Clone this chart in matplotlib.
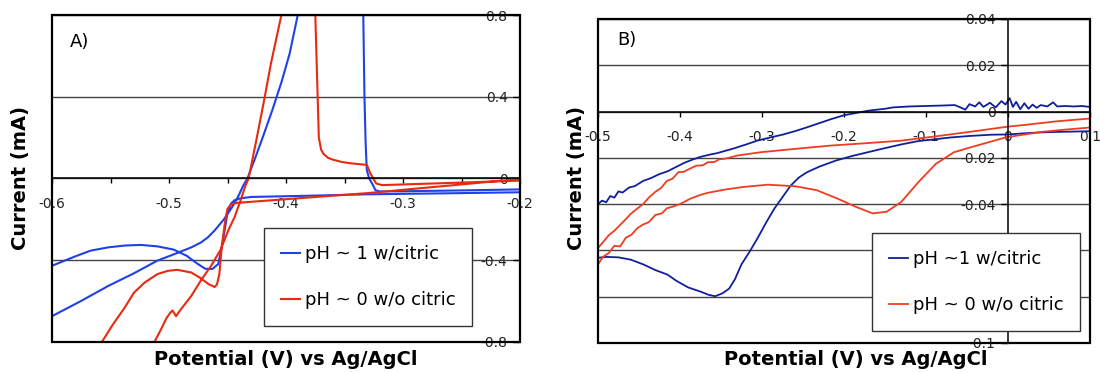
import matplotlib
matplotlib.use('Agg')
import matplotlib.pyplot as plt
from matplotlib.patches import Rectangle
from matplotlib.ticker import FixedLocator, FixedFormatter

plt.rcParams['font.family'] = ['DejaVu Sans']
plt.rcParams['axes.unicode_minus'] = False

# ---- panel A: wide scan, -0.6 .. -0.2 V ----
a_blue_v = [-0.600, -0.575, -0.552, -0.530, -0.510, -0.495, -0.481, -0.473, -0.467, -0.461,
            -0.453, -0.446, -0.441, -0.437, -0.433, -0.427, -0.420, -0.412, -0.404, -0.397,
            -0.390, -0.360, -0.334, -0.333, -0.332, -0.331, -0.329, -0.326, -0.3236, -0.320,
            -0.300, -0.250, -0.200,
            -0.200, -0.260, -0.330, -0.380, -0.430, -0.439, -0.444, -0.447, -0.450, -0.452,
            -0.455, -0.458, -0.463, -0.469, -0.476, -0.485, -0.496, -0.510, -0.524, -0.538,
            -0.552, -0.567, -0.581, -0.600]
a_blue_i = [-0.675, -0.600, -0.527, -0.465, -0.403, -0.370, -0.338, -0.315, -0.290, -0.255,
            -0.200, -0.140, -0.090, -0.040, 0.000, 0.090, 0.200, 0.330, 0.470, 0.610,
            0.800, 2.500, 0.800, 0.400, 0.173, 0.041, 0.000, -0.030, -0.058, -0.064,
            -0.063, -0.059, -0.054,
            -0.068, -0.073, -0.078, -0.085, -0.091, -0.098, -0.107, -0.123, -0.165, -0.239,
            -0.338, -0.420, -0.444, -0.443, -0.417, -0.379, -0.349, -0.333, -0.326, -0.329,
            -0.338, -0.354, -0.384, -0.428]

a_red_v = [-0.515, -0.513, -0.507, -0.502, -0.499, -0.497, -0.494, -0.491, -0.481, -0.473,
           -0.464, -0.456, -0.449, -0.444, -0.439, -0.435, -0.432, -0.426, -0.4195, -0.413,
           -0.404, -0.390, -0.375, -0.373, -0.372, -0.370, -0.368, -0.364, -0.359,
           -0.352, -0.345, -0.338, -0.331, -0.328, -0.323, -0.318, -0.274, -0.200,
           -0.200, -0.330, -0.442, -0.447, -0.450, -0.452, -0.455, -0.457, -0.459, -0.461,
           -0.466, -0.473, -0.481, -0.493, -0.501, -0.510, -0.521, -0.530, -0.538, -0.548,
           -0.558, -0.562]
a_red_i = [-0.840, -0.807, -0.741, -0.683, -0.659, -0.647, -0.675, -0.650, -0.576, -0.502,
           -0.428, -0.350, -0.250, -0.190, -0.110, -0.040, 0.000, 0.170, 0.360, 0.560,
           0.800, 2.500, 0.800, 0.400, 0.200, 0.140, 0.120, 0.100, 0.090,
           0.080, 0.074, 0.070, 0.066, 0.025, -0.025, -0.033, -0.025, -0.011,
           -0.003, -0.072, -0.120, -0.128, -0.148, -0.206, -0.338, -0.469, -0.519, -0.532,
           -0.519, -0.489, -0.461, -0.448, -0.453, -0.469, -0.511, -0.560, -0.634, -0.716,
           -0.807, -0.840]

# ---- panel B: narrow scan, -0.5 .. 0.1 V ----
b_blue_v = [-0.500, -0.495, -0.490, -0.485, -0.480, -0.475, -0.470, -0.462, -0.455, -0.445,
            -0.435, -0.425, -0.415, -0.405, -0.395, -0.385, -0.375, -0.365, -0.355, -0.345,
            -0.335, -0.320, -0.305, -0.290, -0.275, -0.260, -0.245, -0.230, -0.215, -0.200,
            -0.185, -0.170, -0.160, -0.150, -0.140, -0.120, -0.100, -0.080, -0.065, -0.058,
            -0.052, -0.047, -0.040, -0.035, -0.030, -0.022, -0.015, -0.008, -0.003, 0.002,
            0.006, 0.010, 0.015, 0.020, 0.025, 0.030, 0.035, 0.040, 0.048, 0.055,
            0.060, 0.070, 0.080, 0.090, 0.100,
            0.100, 0.060, 0.040, 0.020, 0.000, -0.020, -0.045, -0.070, -0.090, -0.110,
            -0.130, -0.150, -0.170, -0.190, -0.210, -0.230, -0.245, -0.255, -0.265, -0.275,
            -0.285, -0.295, -0.305, -0.315, -0.325, -0.333, -0.340, -0.348, -0.357, -0.365,
            -0.375, -0.390, -0.405, -0.415, -0.430, -0.445, -0.460, -0.475, -0.490, -0.500]
b_blue_i = [-0.0400, -0.0385, -0.0392, -0.0365, -0.0372, -0.0345, -0.0350, -0.0328, -0.0322, -0.0300,
            -0.0287, -0.0270, -0.0258, -0.0240, -0.0222, -0.0208, -0.0196, -0.0187, -0.0180, -0.0170,
            -0.0160, -0.0143, -0.0125, -0.0112, -0.0100, -0.0085, -0.0068, -0.0050, -0.0032, -0.0016,
            -0.0006, 0.0004, 0.0008, 0.0012, 0.0018, 0.0022, 0.0024, 0.0026, 0.0028, 0.0018,
            0.0008, 0.0032, 0.0022, 0.0040, 0.0020, 0.0038, 0.0018, 0.0045, 0.0030, 0.0058,
            0.0020, 0.0042, 0.0010, 0.0036, 0.0012, 0.0030, 0.0016, 0.0028, 0.0022, 0.0040,
            0.0022, 0.0024, 0.0022, 0.0024, 0.0020,
            -0.0085, -0.0088, -0.0090, -0.0094, -0.0099, -0.0100, -0.0105, -0.0112, -0.0120, -0.0128,
            -0.0142, -0.0158, -0.0175, -0.0192, -0.0212, -0.0238, -0.0262, -0.0285, -0.0320, -0.0370,
            -0.0420, -0.0480, -0.0545, -0.0605, -0.0660, -0.0725, -0.0765, -0.0785, -0.0798, -0.0792,
            -0.0778, -0.0760, -0.0730, -0.0705, -0.0685, -0.0660, -0.0640, -0.0630, -0.0628, -0.0632]

b_red_v = [0.100, 0.060, 0.020, -0.002, -0.045, -0.088, -0.131, -0.174, -0.216, -0.259,
           -0.302, -0.330, -0.345, -0.352, -0.358, -0.366, -0.372, -0.380, -0.388, -0.395,
           -0.402, -0.409, -0.416, -0.423, -0.430, -0.438, -0.445, -0.452, -0.460, -0.466,
           -0.473, -0.480, -0.487, -0.494, -0.500,
           -0.500, -0.494, -0.487, -0.480, -0.473, -0.466, -0.459, -0.452, -0.445, -0.438,
           -0.430, -0.422, -0.416, -0.409, -0.400, -0.387, -0.375, -0.366, -0.345, -0.323,
           -0.293, -0.259, -0.233, -0.208, -0.186, -0.165, -0.148, -0.130, -0.109, -0.088,
           -0.066, -0.045, -0.002, 0.041, 0.070, 0.100]
b_red_i = [-0.0030, -0.0042, -0.0058, -0.0066, -0.0087, -0.0107, -0.0126, -0.0137, -0.0147, -0.0161,
           -0.0176, -0.0190, -0.0204, -0.0206, -0.0218, -0.0219, -0.0232, -0.0234, -0.0247, -0.0260,
           -0.0262, -0.0290, -0.0300, -0.0330, -0.0347, -0.0372, -0.0400, -0.0419, -0.0442, -0.0465,
           -0.0490, -0.0515, -0.0535, -0.0565, -0.0590,
           -0.0661, -0.0628, -0.0612, -0.0580, -0.0583, -0.0545, -0.0532, -0.0504, -0.0488, -0.0478,
           -0.0447, -0.0440, -0.0418, -0.0411, -0.0400, -0.0376, -0.0360, -0.0351, -0.0337, -0.0326,
           -0.0316, -0.0323, -0.0340, -0.0376, -0.0411, -0.0440, -0.0433, -0.0390, -0.0304, -0.0226,
           -0.0176, -0.0154, -0.0111, -0.0088, -0.0078, -0.0069]

a_xticks = [-0.6, -0.5, -0.4, -0.3, -0.2]
a_xlabels = ['-0.6', '-0.5', '-0.4', '-0.3', '-0.2']
a_xminor = [-0.55, -0.45, -0.35, -0.25]
a_yticks = [-0.8, -0.4, 0.0, 0.4, 0.8]
a_ylabels = ['-0.8', '-0.4', '0', '0.4', '0.8']
b_xticks = [-0.5, -0.4, -0.3, -0.2, -0.1, 0.0, 0.1]
b_xlabels = ['-0.5', '-0.4', '-0.3', '-0.2', '-0.1', '0', '0.1']
b_yticks = [-0.1, -0.08, -0.06, -0.04, -0.02, 0.0, 0.02, 0.04]
# -0.06 and -0.08 sit behind the legend box
b_ylabels = ['-0.1', '', '', '-0.04', '-0.02', '0', '0.02', '0.04']

labels = ['pH ~ 1 w/citric', 'pH ~ 0 w/o citric']
labels_b = ['pH ~1 w/citric', 'pH ~ 0 w/o citric']


def setup(ax, xlim, ylim, xcross, xticks, xlabels, yticks, ylabels, xminor=None):
    ax.set_xlim(*xlim)
    ax.set_ylim(*ylim)
    # axes cross at I = 0 and at a chosen potential, Excel style
    ax.spines['bottom'].set_position(('data', 0))
    ax.spines['left'].set_position(('data', xcross))
    ax.spines['top'].set_visible(False)
    ax.spines['right'].set_visible(False)
    for s in ('bottom', 'left'):
        ax.spines[s].set_linewidth(1.1)
        ax.spines[s].set_zorder(3)
    ax.add_patch(Rectangle((0, 0), 1, 1, transform=ax.transAxes, fill=False,
                           lw=1.6, ec='black', zorder=4, clip_on=False))
    ax.xaxis.set_major_locator(FixedLocator(xticks))
    ax.xaxis.set_major_formatter(FixedFormatter(xlabels))
    if xminor:
        ax.xaxis.set_minor_locator(FixedLocator(xminor))
    ax.yaxis.set_major_locator(FixedLocator(yticks))
    ax.yaxis.set_major_formatter(FixedFormatter(ylabels))
    ax.tick_params(axis='x', which='both', direction='out', length=3.5, width=1,
                   pad=10, labelsize=10, labelcolor='#222')
    ax.tick_params(axis='y', direction='out', length=5, width=1,
                   pad=4, labelsize=10, labelcolor='#222')
    ax.grid(axis='y', color='#444', lw=1)
    ax.set_axisbelow(True)


fig = plt.figure(figsize=(11, 3.72), dpi=100)
ax_a = fig.add_axes([0.0473, 0.0815, 0.4255, 0.878])
ax_b = fig.add_axes([0.5436, 0.078, 0.4473, 0.871])

setup(ax_a, (-0.6, -0.2), (-0.8, 0.8), -0.2, a_xticks, a_xlabels,
      a_yticks, a_ylabels, a_xminor)
setup(ax_b, (-0.5, 0.1), (-0.1, 0.04), 0.0, b_xticks, b_xlabels,
      b_yticks, b_ylabels)

ax_a.plot(a_blue_v, a_blue_i, color='#2040e8', lw=1.5, label=labels[0], zorder=2)
ax_a.plot(a_red_v, a_red_i, color='#e82a10', lw=1.5, label=labels[1], zorder=2)
ax_b.plot(b_blue_v, b_blue_i, color='#10209a', lw=1.3, label=labels_b[0], zorder=2)
ax_b.plot(b_red_v, b_red_i, color='#f03c20', lw=1.3, label=labels_b[1], zorder=2)

for ax, anchor in ((ax_a, (0.453, 0.348)), (ax_b, (0.557, 0.340))):
    leg = ax.legend(loc='upper left', bbox_to_anchor=anchor, fontsize=13,
                    frameon=True, fancybox=False, edgecolor='#333', framealpha=1,
                    borderaxespad=0, borderpad=0.95, labelspacing=1.55,
                    handlelength=1.05, handletextpad=0.25)
    leg.get_frame().set_linewidth(1)
    leg.set_zorder(5)

ax_a.text(0.0385, 0.917, 'A)', transform=ax_a.transAxes, fontsize=13, va='center')
ax_b.text(0.0386, 0.935, 'B)', transform=ax_b.transAxes, fontsize=13, va='center')

for ax, xl, yl in ((ax_a, (0.5, -0.056), (-0.068, 0.5)),
                   (ax_b, (0.524, -0.052), (-0.043, 0.509))):
    ax.set_xlabel('Potential (V) vs Ag/AgCl', fontsize=14, fontweight='bold', va='center')
    ax.set_ylabel('Current (mA)', fontsize=14, fontweight='bold', va='center')
    ax.xaxis.set_label_coords(*xl)
    ax.yaxis.set_label_coords(*yl)

fig.savefig('out.png', dpi=100)
